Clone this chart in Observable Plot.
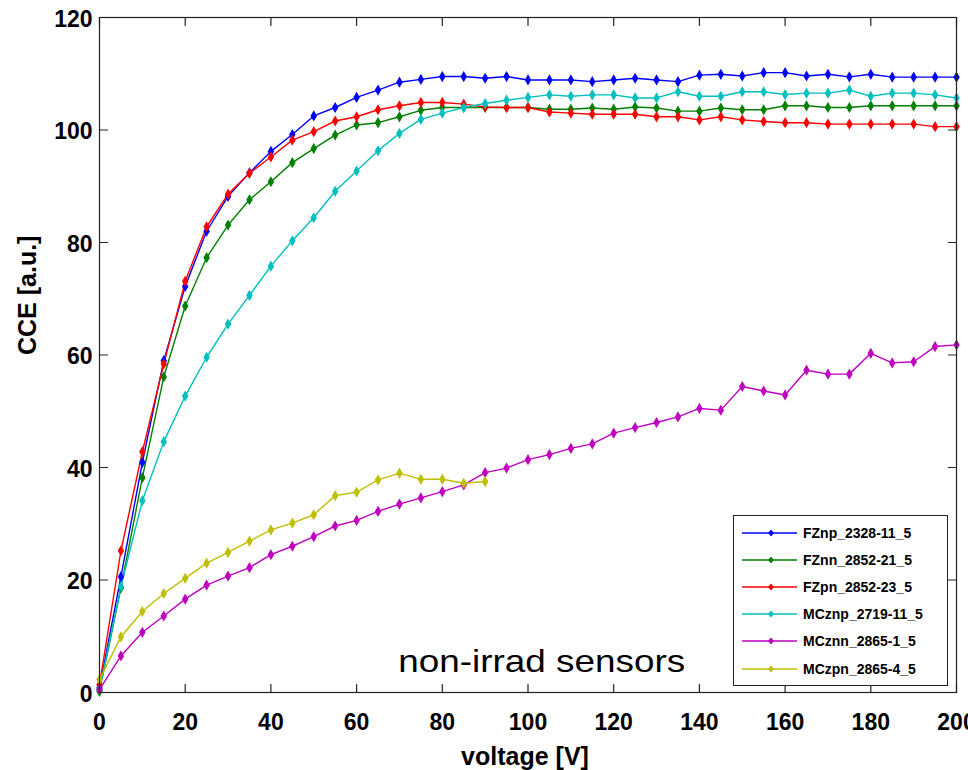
<!DOCTYPE html>
<html><head><meta charset="utf-8">
<script src="https://cdn.jsdelivr.net/npm/d3@7"></script>
<script src="https://cdn.jsdelivr.net/npm/@observablehq/plot@0.6"></script>
<style>
body{margin:0;background:#fff;}
#wrap{position:relative;width:968px;height:770px;overflow:hidden;}
#legend{position:absolute;left:733px;top:515px;width:213px;height:169px;border:1px solid #222;background:#fff;font:bold 14px "Liberation Sans",Arial,sans-serif;color:#000;}
#legend .row{position:absolute;left:0;height:20px;width:213px;}
#legend svg{position:absolute;left:8px;top:0;}
#legend span{position:absolute;left:69px;top:2px;white-space:nowrap;}
</style></head><body><div id="wrap"></div>
<script>
// ---------- data ----------
const voltage = [0,5,10,15,20,25,30,35,40,45,50,55,60,65,70,75,80,85,90,95,100,
  105,110,115,120,125,130,135,140,145,150,155,160,165,170,175,180,185,190,195,200];
const seriesNames = ["FZnp_2328-11_5","FZnn_2852-21_5","FZpn_2852-23_5","MCznp_2719-11_5","MCznn_2865-1_5","MCzpn_2865-4_5"];
const cceFZnp = [0.8,20.6,40.9,59.0,72.2,82.0,88.2,92.4,96.2,99.2,102.5,104.0,105.8,107.1,108.5,109.0,109.5,109.5,109.2,109.5,108.9,
  108.9,108.9,108.6,108.9,109.2,108.9,108.6,109.75,109.9,109.6,110.2,110.2,109.6,109.9,109.45,109.9,109.4,109.4,109.4,109.4];
const cceFZnn = [0.2,18.6,38.2,56.1,68.7,77.3,83.1,87.6,90.8,94.2,96.7,99.1,100.9,101.3,102.35,103.5,104.0,104.0,104.0,104.0,104.0,
  103.7,103.7,103.9,103.7,104.1,103.9,103.35,103.35,103.9,103.6,103.6,104.3,104.3,104.0,104.0,104.3,104.3,104.3,104.3,104.3];
const cceFZpn = [1.4,25.2,42.8,58.4,73.1,82.8,88.6,92.3,95.2,98.2,99.7,101.6,102.35,103.6,104.3,104.9,104.9,104.6,104.1,104.0,104.0,
  103.2,103.0,102.8,102.8,102.8,102.35,102.35,101.8,102.35,101.8,101.5,101.3,101.3,101.05,101.05,101.05,101.05,101.05,100.6,100.6];
const cceMCznp = [0.5,18.8,34.1,44.6,52.7,59.6,65.5,70.6,75.8,80.3,84.4,89.1,92.7,96.3,99.4,101.9,103.0,104.0,104.7,105.3,105.8,
  106.25,106.0,106.25,106.25,105.7,105.7,106.8,106.0,106.0,106.8,106.8,106.3,106.55,106.55,107.1,106.0,106.55,106.55,106.25,105.7];
const cceMCznn = [0.5,6.5,10.7,13.6,16.6,19.1,20.7,22.2,24.5,26.0,27.7,29.6,30.6,32.2,33.5,34.6,35.7,36.9,39.1,39.9,41.4,
  42.3,43.4,44.2,46.1,47.1,48.0,49.0,50.5,50.2,54.4,53.6,52.9,57.3,56.6,56.6,60.3,58.6,58.8,61.5,61.8];
const cceMCzpn = [2.3,9.9,14.4,17.6,20.3,23.0,24.9,26.9,28.9,30.1,31.6,35.0,35.6,37.8,39.0,37.9,37.9,37.2,37.5];
const xTicks = [0,20,40,60,80,100,120,140,160,180,200];
const yTicks = [0,20,40,60,80,100,120];
const xLabel = "voltage [V]";
const yLabel = "CCE [a.u.]";
const annotation = "non-irrad sensors";

// ---------- styling ----------
const seriesColors = ["#0000ff","#008000","#ff0000","#00bfbf","#bf00bf","#bfbf00"];
const allSeries = [cceFZnp, cceFZnn, cceFZpn, cceMCznp, cceMCznn, cceMCzpn];
const rows = [];
allSeries.forEach((vals, i) => vals.forEach((c, j) => rows.push({v: voltage[j], cce: c, series: seriesNames[i]})));

const font = '"Liberation Sans", Arial, Helvetica, sans-serif';
const tickShape = {draw(ctx, l) { ctx.moveTo(0, 0); ctx.lineTo(0, -l); }};
const xDom = [xTicks[0], xTicks[xTicks.length - 1]];
const yDom = [yTicks[0], yTicks[yTicks.length - 1]];
const tickStyle = {length: 8, anchor: "start", shape: tickShape, stroke: "#222", strokeWidth: 1.2};

const chart = Plot.plot({
  width: 968, height: 770,
  marginLeft: 99, marginRight: 12, marginTop: 17, marginBottom: 78,
  style: {fontFamily: font, background: "white", color: "#000"},
  x: {domain: xDom},
  y: {domain: yDom},
  color: {domain: seriesNames, range: seriesColors},
  marks: [
    Plot.line(rows, {x: "v", y: "cce", z: "series", stroke: "series", strokeWidth: 1.4}),
    Plot.dot(rows, {x: "v", y: "cce", fill: "series", symbol: "diamond", r: 3.4}),
    Plot.frame({stroke: "#222", strokeWidth: 1.2}),
    Plot.vector(xTicks, {x: d => d, y: () => yDom[0], rotate: 0, ...tickStyle}),
    Plot.vector(xTicks, {x: d => d, y: () => yDom[1], rotate: 180, ...tickStyle}),
    Plot.vector(yTicks, {y: d => d, x: () => xDom[0], rotate: 90, ...tickStyle}),
    Plot.vector(yTicks, {y: d => d, x: () => xDom[1], rotate: -90, ...tickStyle}),
    Plot.axisX({ticks: xTicks, tickSize: 0, tickPadding: 21, fontSize: 23, fontWeight: "bold", label: null}),
    Plot.axisY({ticks: yTicks, tickSize: 0, tickPadding: 7, fontSize: 23, fontWeight: "bold", label: null, dy: 2}),
    Plot.text([xLabel], {text: d => d, frameAnchor: "bottom", dy: 64, dx: -3, fontSize: 25, fontWeight: "bold", lineAnchor: "middle"}),
    Plot.text([yLabel], {text: d => d, frameAnchor: "left", rotate: -90, dx: -72, fontSize: 25, fontWeight: "bold", lineAnchor: "middle"}),
    Plot.text([annotation], {text: d => d, x: () => 69.7, y: () => 5.4, textAnchor: "start", lineAnchor: "middle", fontSize: 32})
  ]
});
const wrap = document.getElementById("wrap");
wrap.appendChild(chart);
chart.querySelectorAll("text").forEach(t => {
  if (t.textContent === annotation) {
    t.setAttribute("textLength", 287);
    t.setAttribute("lengthAdjust", "spacingAndGlyphs");
  }
});

// ---------- legend ----------
const legend = document.createElement("div");
legend.id = "legend";
seriesNames.forEach((name, i) => {
  const row = document.createElement("div");
  row.className = "row";
  row.style.top = (7 + 27.1 * i) + "px";
  const c = seriesColors[i];
  row.innerHTML = `<svg width="56" height="20"><line x1="0" y1="10" x2="55" y2="10" stroke="${c}" stroke-width="1.4"/>` +
    `<path d="M29 6.5 L32 10 L29 13.5 L26 10 Z" fill="${c}"/></svg><span>${name}</span>`;
  legend.appendChild(row);
});
wrap.appendChild(legend);
</script></body></html>
